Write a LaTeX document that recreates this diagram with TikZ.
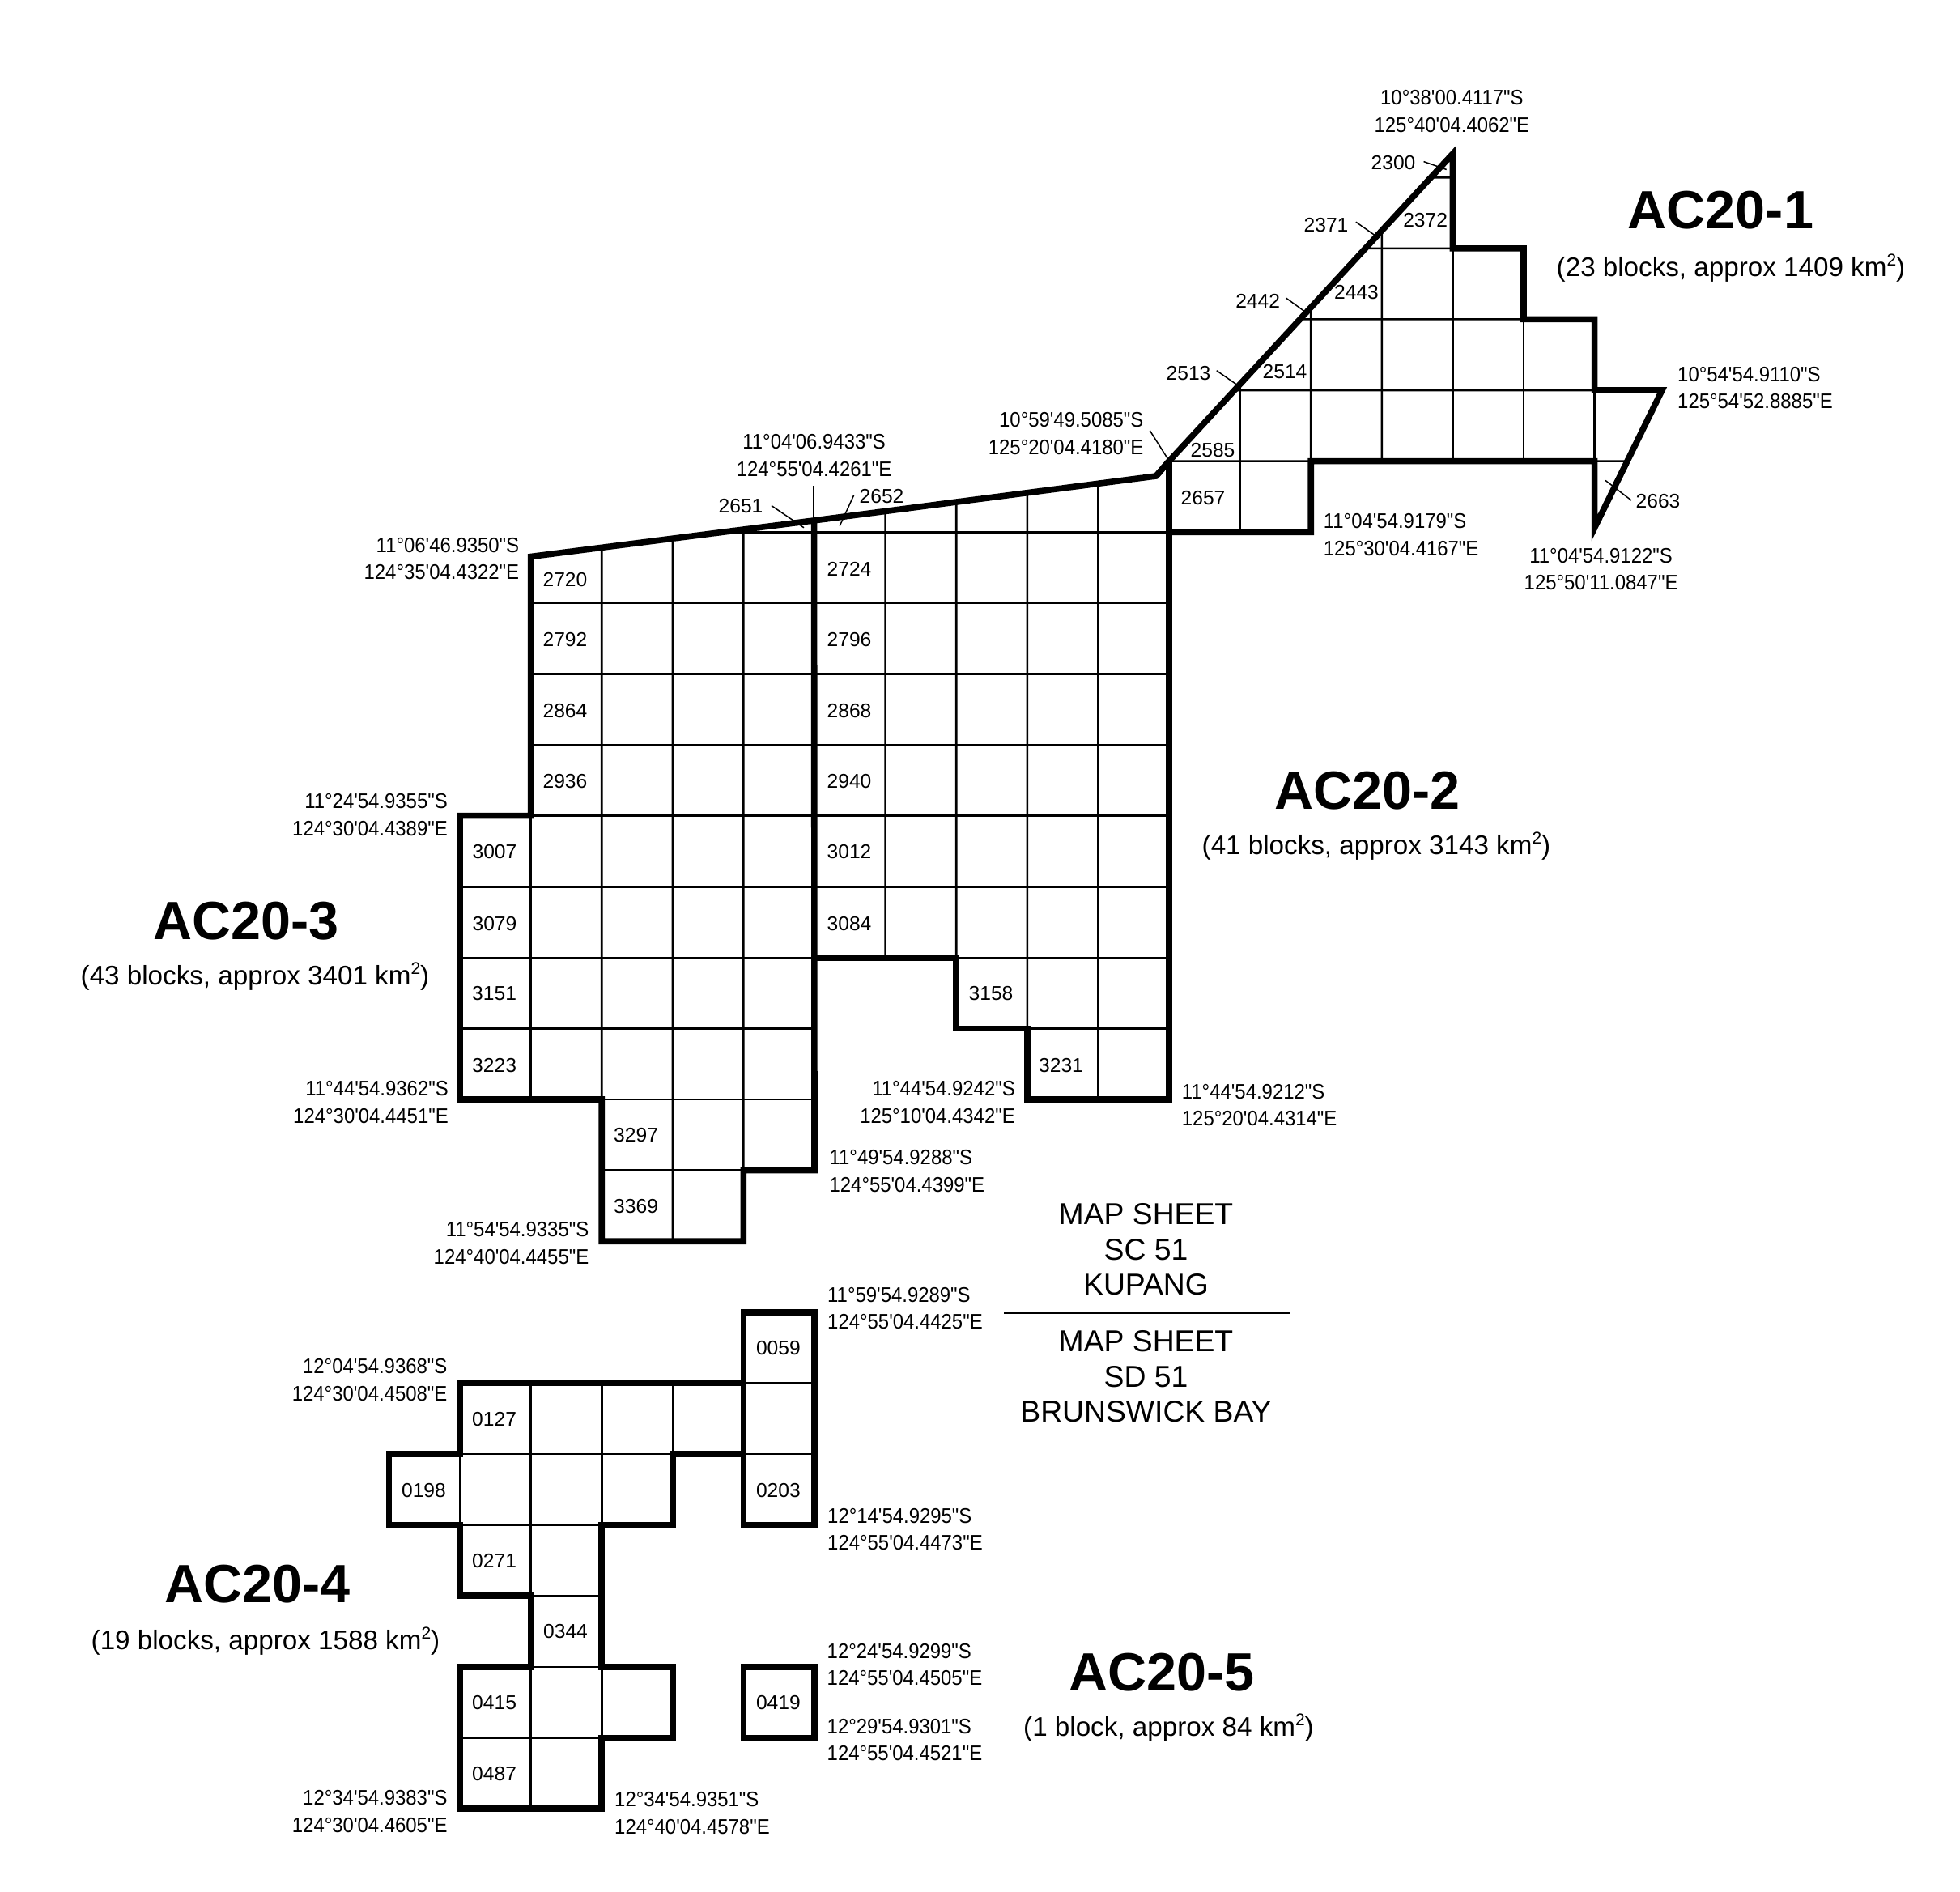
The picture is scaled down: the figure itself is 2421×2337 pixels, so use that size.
\documentclass[tikz,border=0pt]{standalone}
\usepackage{fontspec}
\newfontfamily\arialfont{Liberation Sans}
\newfontfamily\coordfont[FakeStretch=0.92]{Liberation Sans}
\newcommand{\kmsq}{km\raisebox{13pt}{\fontsize{21}{21}\selectfont 2}}
\tikzset{
  gridline/.style={line width=2.6pt,line cap=butt},
  outline/.style={line width=7.6pt,line join=miter,miter limit=20},
  leader/.style={line width=1.5pt},
  cell/.style={font=\arialfont\fontsize{24.6}{26}\selectfont,inner sep=0pt},
  coordlabel/.style={font=\coordfont\fontsize{26}{33.3}\selectfont,inner sep=0pt},
  coordL/.style={coordlabel,align=left,anchor=west},
  coordR/.style={coordlabel,align=right,anchor=east},
  coordC/.style={coordlabel,align=center,anchor=center},
  areatitle/.style={font=\arialfont\bfseries\fontsize{66.5}{70}\selectfont,inner sep=0pt},
  areasub/.style={font=\arialfont\fontsize{33.2}{36}\selectfont,inner sep=0pt},
  sheet/.style={font=\arialfont\fontsize{37.3}{43.6}\selectfont,inner sep=0pt,align=center}
}
\begin{document}
\begin{tikzpicture}[x=1pt,y=-1pt]
\useasboundingbox[fill=white] (0,0) rectangle (2421,2337);
% points on slanted edges
\coordinate (west) at (655.6,687.5);
\coordinate (mid) at (1005.6,642.9);
\coordinate (kink) at (1428,588);
\coordinate (joint) at (1444.5,569);
\coordinate (apex) at (1794.4,190);
\coordinate (tip) at (2053,482);
\coordinate (foot) at (1969.6,652);
\coordinate (s1) at (743.2,676.3);
\coordinate (s2) at (830.8,665.1);
\coordinate (s3) at (918.4,653.9);
\coordinate (s5) at (1093.6,631.4);
\coordinate (s6) at (1181.2,620);
\coordinate (s7) at (1268.8,608.7);
\coordinate (s8) at (1356.4,597.3);
\coordinate (r0s) at (894,657.2);
\coordinate (n10) at (1531.6,474.7);
\coordinate (n11) at (1619.2,379.8);
\coordinate (n12) at (1706.8,284.9);
\coordinate (e5) at (1767.5,219.2);
\coordinate (e4) at (1686.6,306.8);
\coordinate (e3) at (1605.7,394.4);
\coordinate (e2) at (1524.8,482);
\coordinate (e1) at (2011.3,569.6);
\begin{scope}[shift={(655.6,657.2)},x=87.6pt,y=-87.6pt]
% AC20-3 and AC20-2 grid
\draw[gridline] (s1)--(1,8) (s2)--(2,10) (s3)--(3,9);
\draw[gridline] (0,4)--(0,8);
\draw[gridline] (r0s)--(9,0);
\foreach \j in {1,2,3,4}{\draw[gridline] (0,\j)--(9,\j);}
\draw[gridline] (-1,5)--(9,5);
\draw[gridline] (-1,6)--(4,6) (6,6)--(9,6);
\draw[gridline] (-1,7)--(4,7) (7,7)--(9,7);
\draw[gridline] (1,8)--(4,8);
\draw[gridline] (1,9)--(3,9);
\draw[gridline] (s5)--(5,6) (s6)--(6,7) (s7)--(7,8) (s8)--(8,8);
% AC20-1 grid
\draw[gridline] (e5)--(13,-5) (e4)--(13,-4) (e3)--(14,-3) (e2)--(15,-2);
\draw[gridline] (9,-1)--(11,-1) (15,-1)--(e1);
\draw[gridline] (n10)--(10,0) (n11)--(11,-1) (n12)--(12,-1);
\draw[gridline] (13,-4)--(13,-1) (14,-3)--(14,-1) (15,-2)--(15,-1);
% AC20-4 grid
\draw[gridline] (-1,13)--(-1,14) (0,12)--(0,15) (0,16)--(0,18) (1,12)--(1,14) (1,16)--(1,17) (2,12)--(2,13) (3,12)--(3,13);
\draw[gridline] (3,12)--(4,12) (-1,13)--(2,13) (3,13)--(4,13) (-1,14)--(1,14) (0,15)--(1,15) (0,16)--(1,16) (-1,17)--(1,17);
% outlines
\draw[outline] (kink)--(joint)--(apex)--(13,-4)--(14,-4)--(14,-3)--(15,-3)--(15,-2)--(tip)--(foot)--(15,-1)--(11,-1)--(11,0)--(9,0)--(9,-1)--(joint);
\draw[outline] (joint)--(kink)--(mid)--(west)--(0,4)--(-1,4)--(-1,8)--(1,8)--(1,10)--(3,10)--(3,9)--(4,9)--(mid);
\draw[outline] (4,6)--(6,6)--(6,7)--(7,7)--(7,8)--(9,8)--(9,-1);
\draw[outline] (3,13)--(3,11)--(4,11)--(4,14)--(3,14)--(3,13)--(2,13)--(2,14)--(1,14)--(1,16)--(2,16)--(2,17)--(1,17)--(1,18)--(-1,18)--(-1,16)--(0,16)--(0,15)--(-1,15)--(-1,14)--(-2,14)--(-2,13)--(-1,13)--(-1,12)--(3,12);
\draw[outline] (3,16) rectangle (4,17);
\end{scope}
% leaders
\draw[leader] (1758.6,199.6)--(1786.7,209.5);
\draw[leader] (1674.8,274.2)--(1698.3,290.7);
\draw[leader] (1588.4,368)--(1611.2,384.5);
\draw[leader] (1502.7,457.7)--(1527.5,475);
\draw[leader] (1420.3,531.8)--(1442.4,566.6);
\draw[leader] (1983,593.4)--(2015,618);
\draw[leader] (1005,600.4)--(1005,643);
\draw[leader] (953,624.6)--(993,651.8);
\draw[leader] (1054.7,611.6)--(1037.2,649.6);
\begin{scope}[yshift=-1.5pt]
% cell labels
\foreach \n/\x/\y in {2300/1721/199.6,2371/1638/276.4,2372/1760.6/270.6,2442/1553.6/370,2443/1675.5/359.5,2513/1468/460,2514/1587/458,2585/1498/554.5,2657/1486/613.5,2663/2048/617.5,2651/915/623.7,2652/1089/612,2720/698/714.7,2792/698/788.4,2864/698/876.3,2936/698/963.4,3007/611/1051,3079/611/1139.3,2724/1049/701.3,2796/1049/788.4,2868/1049/876.3,2940/1049/963.4,3012/1049/1051,3084/1049/1139.3,3151/610.6/1226,3223/610.6/1314.3,3158/1224/1226,3231/1310.5/1314.3,3297/785.6/1401,3369/785.6/1488.7,0059/961.4/1664,0127/610.6/1751.8,0198/523.5/1839.3,0203/961.4/1839.3,0271/610.6/1927,0344/698.5/2014,0415/610.6/2102,0419/961.4/2102,0487/610.6/2189.3}{
  \node[cell] (b\n) at (\x,\y) {\n};
}
% map sheet legend
\node[sheet] (sc) at (1415.5,1541.7) {MAP SHEET\\SC 51\\KUPANG};
\node[sheet] (sd) at (1415.5,1699) {MAP SHEET\\SD 51\\BRUNSWICK BAY};
\end{scope}
% corner coordinates
\begin{scope}[yshift=-0.5pt]
\node[coordC] (p01) at (1793.4,137) {10°38'00.4117"S\\125°40'04.4062"E};
\node[coordL] (p02) at (2072,478.6) {10°54'54.9110"S\\125°54'52.8885"E};
\node[coordL] (p03) at (1634.7,660) {11°04'54.9179"S\\125°30'04.4167"E};
\node[coordC] (p04) at (1977.6,702.5) {11°04'54.9122"S\\125°50'11.0847"E};
\node[coordR] (p05) at (1412.6,535) {10°59'49.5085"S\\125°20'04.4180"E};
\node[coordC] (p06) at (1005.6,562) {11°04'06.9433"S\\124°55'04.4261"E};
\node[coordR] (p07) at (641.4,689.7) {11°06'46.9350"S\\124°35'04.4322"E};
\node[coordR] (p08) at (553,1006) {11°24'54.9355"S\\124°30'04.4389"E};
\node[coordR] (p09) at (554,1361) {11°44'54.9362"S\\124°30'04.4451"E};
\node[coordR] (p10) at (1254,1361) {11°44'54.9242"S\\125°10'04.4342"E};
\node[coordL] (p11) at (1459.7,1364.5) {11°44'54.9212"S\\125°20'04.4314"E};
\node[coordL] (p12) at (1024.4,1446) {11°49'54.9288"S\\124°55'04.4399"E};
\node[coordR] (p13) at (727.5,1535) {11°54'54.9335"S\\124°40'04.4455"E};
\node[coordL] (p14) at (1022,1615.7) {11°59'54.9289"S\\124°55'04.4425"E};
\node[coordR] (p15) at (552.6,1704) {12°04'54.9368"S\\124°30'04.4508"E};
\node[coordL] (p16) at (1022,1888.7) {12°14'54.9295"S\\124°55'04.4473"E};
\node[coordL] (p17) at (1021.5,2055.7) {12°24'54.9299"S\\124°55'04.4505"E};
\node[coordL] (p18) at (1021.5,2148.6) {12°29'54.9301"S\\124°55'04.4521"E};
\node[coordR] (p19) at (552.7,2237) {12°34'54.9383"S\\124°30'04.4605"E};
\node[coordL] (p20) at (759,2239) {12°34'54.9351"S\\124°40'04.4578"E};
\end{scope}
% area titles
\node[areatitle] (t1) at (2125.5,260) {AC20-1};
\node[areasub] (u1) at (2138,331) {(23 blocks, approx 1409 \kmsq)};
\node[areatitle] (t2) at (1689,977) {AC20-2};
\node[areasub] (u2) at (1700,1045.5) {(41 blocks, approx 3143 \kmsq)};
\node[areatitle] (t3) at (304,1138) {AC20-3};
\node[areasub] (u3) at (315,1206.5) {(43 blocks, approx 3401 \kmsq)};
\node[areatitle] (t4) at (318,1957) {AC20-4};
\node[areasub] (u4) at (328,2027) {(19 blocks, approx 1588 \kmsq)};
\node[areatitle] (t5) at (1435,2065.5) {AC20-5};
\node[areasub] (u5) at (1443.5,2134) {(1 block, approx 84 \kmsq)};
\coordinate (divL) at (1240,1622);
\coordinate (divR) at (1594,1622);
\draw[line width=2pt] (divL)--(divR);
\end{tikzpicture}
\end{document}
